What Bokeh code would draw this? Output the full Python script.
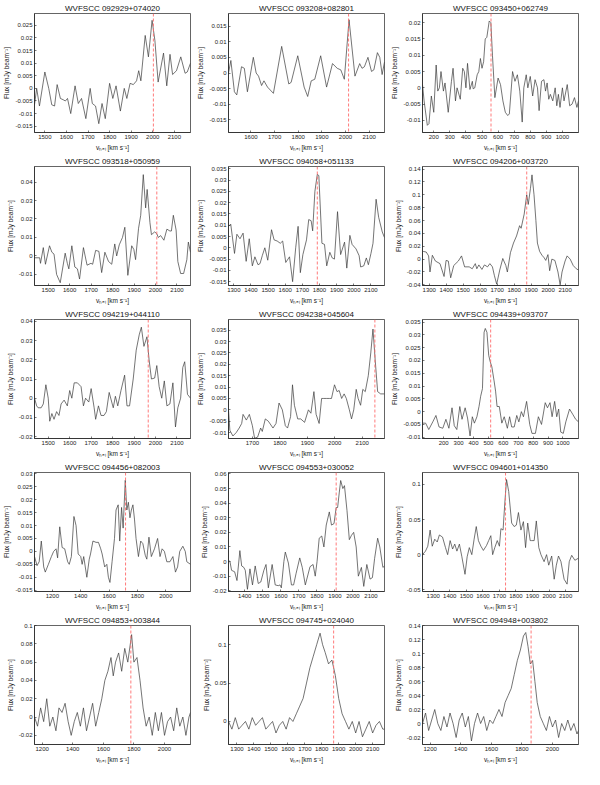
from bokeh.plotting import figure
from bokeh.layouts import gridplot
from bokeh.models import Span, FixedTicker
from bokeh.embed import file_html
from bokeh.resources import INLINE

NAMES = ["WVFSCC 092929+074020", "WVFSCC 093208+082801", "WVFSCC 093450+062749",
         "WVFSCC 093518+050959", "WVFSCC 094058+051133", "WVFSCC 094206+003720",
         "WVFSCC 094219+044110", "WVFSCC 094238+045604", "WVFSCC 094439+093707",
         "WVFSCC 094456+082003", "WVFSCC 094553+030052", "WVFSCC 094601+014350",
         "WVFSCC 094853+003844", "WVFSCC 094745+024040", "WVFSCC 094948+003802"]

VSYS = [2003, 2013, 556, 2006, 1787, 1874, 1966, 2146, 515, 1716, 1907, 1737, 1780, 1870, 1860]

V1 = [1452, 1462, 1475, 1500, 1518, 1532, 1545, 1557, 1572, 1585, 1595, 1605, 1620, 1640, 1655, 1670,
      1690, 1710, 1720, 1735, 1750, 1765, 1780, 1800, 1815, 1830, 1850, 1868, 1880, 1895, 1910, 1925,
      1935, 1945, 1965, 1980, 1997, 2010, 2025, 2050, 2065, 2080, 2092, 2110, 2130, 2150, 2160, 2175]
F1 = [-0.0065, 0.0, -0.007, 0.0065, 0.0, -0.0065, -0.007, 0.0015, -0.004, -0.0045, -0.005, -0.004,
      -0.010, 0.001, -0.006, -0.004, -0.012, 0.0, -0.006, -0.007, -0.014, -0.006, -0.012, 0.002,
      -0.004, 0.001, -0.009, 0.0, -0.004, 0.002, 0.0015, 0.003, 0.007, 0.003, 0.021, 0.0125, 0.027,
      0.019, 0.0025, 0.014, 0.001, 0.0135, 0.0055, 0.007, 0.0125, 0.006, 0.0065, 0.010]

V2 = [1505, 1515, 1530, 1540, 1560, 1572, 1585, 1610, 1622, 1632, 1645, 1655, 1670, 1695, 1730, 1760,
      1770, 1798, 1825, 1840, 1855, 1870, 1895, 1920, 1945, 1965, 1980, 1995, 2015, 2040, 2060, 2070,
      2080, 2095, 2110, 2120, 2135, 2145, 2155, 2165]
F2 = [0.0, 0.004, -0.006, -0.007, 0.002, 0.0015, -0.006, 0.005, 0.0, -0.001, -0.004, -0.0025, -0.0045,
      -0.0065, 0.0085, -0.0035, -0.003, 0.0055, -0.0045, -0.0075, -0.0025, -0.002, 0.0055, -0.0045,
      0.003, 0.0015, 0.001, -0.002, 0.017, -0.001, 0.003, 0.0015, 0.002, 0.005, 0.0005, 0.001, 0.0065,
      0.005, -0.0005, 0.0035]

V3 = [130, 140, 160, 170, 185, 200, 215, 225, 235, 245, 260, 270, 290, 310, 320, 335, 345, 365, 380, 390,
      400, 410, 425, 440, 445, 455, 470, 480, 490, 500, 510, 520, 530, 545, 555, 565, 580, 600, 615, 630,
      645, 660, 670, 690, 705, 720, 735, 750, 760, 775, 785, 800, 815, 830, 845, 855, 870, 885, 895, 905,
      915, 925, 940, 955, 965, 975, 985, 1000, 1010, 1030, 1045, 1060, 1075, 1090, 1100]
F3 = [0.001, -0.004, -0.0115, -0.011, -0.0025, -0.0075, 0.007, -0.001, 0.0, 0.005, -0.001, 0.0015,
      -0.0075, 0.002, 0.006, -0.004, 0.0, -0.0035, 0.006, 0.005, 0.0, 0.0075, -0.0005, 0.002, -0.0003,
      0.0, 0.004, 0.005, 0.009, 0.006, 0.008, 0.015, 0.0155, 0.0205, 0.02, 0.01, -0.003, 0.003, 0.001,
      -0.004, -0.0075, -0.0085, -0.008, 0.005, 0.002, 0.004, -0.001, -0.0105, 0.0, 0.004, 0.0, 0.0035,
      -0.0025, 0.0025, 0.0, -0.007, 0.002, 0.0025, -0.001, 0.0015, -0.0035, -0.002, -0.004, 0.0, -0.0055,
      -0.002, -0.006, 0.0, -0.004, 0.001, -0.0055, -0.005, -0.003, -0.006, -0.004]

V4 = [1436, 1460, 1464, 1477, 1487, 1506, 1517, 1527, 1539, 1556, 1579, 1589, 1596, 1610, 1624, 1636,
      1646, 1664, 1681, 1699, 1707, 1721, 1736, 1749, 1764, 1781, 1796, 1810, 1819, 1831, 1846, 1857,
      1871, 1889, 1899, 1907, 1921, 1931, 1943, 1954, 1961, 1974, 1981, 1996, 2006, 2013, 2024, 2039,
      2053, 2067, 2074, 2083, 2096, 2104, 2117, 2131, 2146, 2153, 2163]
F4 = [-0.001, -0.001, -0.004, 0.0045, -0.0045, 0.0055, 0.002, 0.001, -0.010, -0.0145, 0.0015, -0.004,
      -0.007, 0.0055, -0.006, -0.007, -0.0125, 0.0045, -0.005, -0.004, -0.0045, 0.003, 0.0025, -0.009,
      0.002, -0.003, -0.0045, 0.0065, 0.0, 0.006, 0.010, 0.0155, -0.0105, 0.0055, 0.0035, -0.002, 0.015,
      0.022, 0.044, 0.026, 0.036, 0.018, 0.0115, 0.013, 0.012, 0.010, 0.011, 0.0085, 0.0145, 0.0135,
      0.0135, 0.022, 0.014, -0.003, -0.0095, -0.0095, -0.002, 0.0075, 0.002]

V5 = [1269, 1282, 1304, 1318, 1336, 1354, 1372, 1390, 1408, 1423, 1441, 1453, 1466, 1481, 1498, 1520,
      1535, 1553, 1571, 1585, 1603, 1625, 1643, 1661, 1675, 1688, 1703, 1724, 1737, 1751, 1760, 1773,
      1787, 1796, 1814, 1829, 1842, 1860, 1874, 1887, 1905, 1923, 1946, 1959, 1977, 1990, 2013, 2031,
      2040, 2058, 2073, 2085, 2100, 2112, 2130, 2145, 2166, 2179]
F5 = [0.0095, 0.0105, -0.0025, 0.006, 0.004, 0.0065, -0.006, 0.004, -0.008, -0.004, -0.0075, -0.007,
      -0.0035, 0.0, -0.0055, 0.008, 0.0035, 0.003, 0.002, 0.003, -0.0065, -0.004, -0.015, 0.0, 0.0095,
      -0.011, -0.003, 0.0035, 0.0125, 0.012, 0.0075, 0.025, 0.0325, 0.032, 0.002, 0.0015, -0.008, -0.002,
      -0.0045, -0.005, 0.016, -0.003, 0.0025, -0.009, 0.0055, 0.0015, -0.0005, -0.0035, -0.0085, -0.008,
      -0.0045, -0.0075, -0.0025, 0.002, 0.0215, 0.0135, 0.007, 0.0045]

V6 = [1264, 1282, 1296, 1304, 1318, 1336, 1363, 1387, 1399, 1412, 1426, 1444, 1471, 1490, 1508, 1535,
      1553, 1571, 1580, 1592, 1610, 1625, 1643, 1657, 1672, 1683, 1697, 1715, 1733, 1751, 1760, 1778,
      1796, 1814, 1832, 1841, 1859, 1874, 1883, 1896, 1905, 1917, 1928, 1937, 1950, 1964, 1977, 1986,
      1999, 2009, 2022, 2040, 2058, 2071, 2082, 2100, 2112, 2130, 2148, 2166, 2179]
F6 = [0.012, 0.011, 0.005, -0.02, 0.006, -0.003, -0.007, -0.027, -0.002, -0.003, -0.029, -0.01, -0.003,
      0.005, -0.012, -0.012, -0.015, -0.007, -0.015, -0.009, -0.016, -0.009, -0.012, -0.007, -0.012,
      -0.025, -0.039, -0.017, 0.001, -0.01, -0.02, 0.01, 0.025, 0.036, 0.052, 0.048, 0.07, 0.1, 0.085,
      0.11, 0.131, 0.1, 0.06, 0.025, 0.012, 0.006, 0.002, -0.002, 0.007, -0.018, 0.0, -0.002, -0.02,
      -0.04, -0.02, -0.003, 0.005, 0.0, -0.01, -0.015, -0.017]

V7 = [1436, 1446, 1453, 1467, 1477, 1489, 1500, 1507, 1517, 1527, 1539, 1550, 1560, 1574, 1589, 1600,
      1610, 1621, 1636, 1653, 1664, 1674, 1689, 1700, 1714, 1721, 1734, 1746, 1760, 1771, 1784, 1803,
      1813, 1824, 1839, 1856, 1867, 1879, 1896, 1910, 1924, 1934, 1946, 1960, 1970, 1981, 1996, 2006,
      2017, 2029, 2041, 2053, 2067, 2081, 2093, 2104, 2117, 2127, 2136, 2149, 2163]
F7 = [0.0, -0.004, -0.005, -0.005, -0.003, 0.007, 0.0, -0.012, -0.008, -0.011, -0.007, -0.009, -0.003,
      -0.001, -0.004, 0.004, 0.0, 0.008, 0.008, 0.006, -0.004, 0.0, -0.002, 0.005, -0.005, -0.011, -0.004,
      -0.009, -0.009, -0.007, 0.003, -0.005, 0.001, -0.004, 0.004, 0.012, -0.004, -0.004, 0.01, 0.025,
      0.033, 0.037, 0.027, 0.032, 0.02, 0.01, 0.0105, 0.017, 0.006, 0.0, 0.009, -0.004, -0.003, 0.008,
      -0.015, -0.005, 0.0, 0.016, 0.019, 0.002, 0.0]

V8 = [1613, 1618, 1629, 1641, 1652, 1661, 1666, 1678, 1689, 1700, 1708, 1719, 1730, 1736, 1747, 1758,
      1775, 1786, 1797, 1809, 1820, 1828, 1839, 1846, 1853, 1865, 1876, 1890, 1904, 1913, 1924, 1932,
      1943, 1952, 1960, 1969, 1980, 1988, 1999, 2008, 2016, 2025, 2034, 2042, 2053, 2061, 2069, 2078,
      2085, 2094, 2102, 2111, 2122, 2131, 2139, 2147, 2156, 2167, 2181]
F8 = [0.0, -0.009, -0.0115, -0.01, -0.008, -0.006, -0.002, -0.0045, -0.002, -0.007, -0.0125, -0.012,
      -0.008, -0.0095, -0.004, -0.005, -0.008, -0.006, 0.003, 0.0, -0.007, -0.008, -0.003, 0.011, 0.002,
      -0.004, -0.004, -0.0055, 0.0, -0.0015, 0.008, -0.002, -0.006, 0.005, 0.005, 0.005, 0.005, 0.005,
      0.011, 0.008, 0.0085, 0.005, 0.007, 0.005, 0.0, -0.004, 0.0, 0.009, 0.005, 0.002, 0.009, 0.008,
      0.015, 0.025, 0.0355, 0.022, 0.008, 0.007, 0.007]

V9 = [58, 79, 100, 127, 148, 169, 194, 215, 235, 256, 271, 288, 308, 323, 344, 360, 377, 392, 406, 423,
      437, 448, 460, 471, 479, 490, 502, 512, 523, 538, 548, 558, 573, 590, 606, 627, 642, 656, 673, 690,
      704, 721, 735, 756, 777, 792, 815, 835, 856, 881, 896, 913, 927, 944, 958, 971, 985, 1002, 1019,
      1044, 1065, 1085, 1104]
F9 = [-0.0045, -0.0045, -0.007, -0.004, -0.0015, -0.006, -0.0065, -0.003, -0.0065, 0.0015, -0.0055,
      -0.007, 0.002, -0.003, 0.0015, -0.0025, -0.0095, -0.002, -0.0045, -0.002, 0.002, 0.006, 0.009,
      0.031, 0.0325, 0.031, 0.022, 0.0195, 0.0175, 0.012, 0.008, 0.002, 0.002, -0.0045, -0.002, -0.0065,
      -0.002, -0.006, -0.006, -0.0015, -0.004, 0.0, -0.002, 0.004, -0.005, -0.0085, -0.0085, -0.002,
      -0.005, 0.0035, 0.0015, 0.0035, -0.002, 0.004, -0.002, 0.001, -0.008, -0.0085, -0.004, 0.001,
      -0.001, -0.003, -0.004]

V10 = [1074, 1092, 1107, 1122, 1139, 1150, 1172, 1193, 1209, 1226, 1237, 1252, 1269, 1287, 1308, 1319,
       1334, 1352, 1367, 1382, 1400, 1410, 1421, 1443, 1460, 1469, 1486, 1508, 1525, 1541, 1551, 1569,
       1584, 1595, 1606, 1621, 1638, 1649, 1664, 1675, 1688, 1699, 1714, 1725, 1736, 1747, 1757, 1768,
       1779, 1790, 1807, 1823, 1838, 1855, 1866, 1881, 1898, 1920, 1942, 1959, 1974, 1990, 2007, 2029,
       2050, 2068, 2083, 2098, 2120, 2137, 2148, 2174]
F10 = [-0.002, -0.0055, -0.004, 0.004, -0.006, -0.008, -0.005, -0.002, 0.0, 0.001, -0.0025, 0.0095,
       0.0015, 0.001, -0.004, -0.005, -0.002, 0.0135, 0.01, -0.001, -0.002, -0.005, -0.002, -0.01, -0.003,
       -0.001, 0.004, 0.0035, 0.0035, 0.001, -0.001, -0.006, -0.005, -0.01, -0.012, -0.004, 0.005, 0.016,
       0.018, 0.004, 0.017, 0.009, 0.0275, 0.016, 0.019, 0.013, 0.016, 0.018, 0.0125, 0.005, -0.002,
       0.004, 0.003, -0.0015, -0.003, 0.0055, -0.002, 0.001, 0.005, -0.002, 0.001, 0.0, -0.004, -0.004,
       -0.002, -0.008, -0.006, 0.0, 0.002, 0.0, -0.004, -0.005]

V11 = [1310, 1318, 1327, 1344, 1357, 1373, 1383, 1395, 1403, 1415, 1429, 1443, 1458, 1475, 1489, 1506,
       1518, 1531, 1552, 1569, 1586, 1596, 1603, 1617, 1625, 1642, 1659, 1671, 1685, 1705, 1719, 1736,
       1762, 1779, 1791, 1801, 1813, 1827, 1839, 1852, 1869, 1881, 1895, 1907, 1915, 1924, 1932, 1944,
       1953, 1967, 1980, 1992, 2004, 2018, 2030, 2047, 2060, 2077, 2095, 2108, 2120, 2137, 2149, 2166, 2175]
F11 = [0.001, 0.0, -0.006, -0.007, -0.013, 0.0075, -0.003, -0.004, -0.006, -0.019, -0.005, -0.016,
       -0.003, -0.015, -0.014, -0.006, -0.002, -0.018, -0.002, -0.016, -0.0165, -0.016, -0.018, 0.0,
       0.0065, -0.001, -0.016, -0.016, -0.008, 0.0025, -0.004, -0.016, -0.0035, -0.002, -0.01, 0.0, 0.016,
       0.0175, 0.01, 0.025, 0.034, 0.025, 0.026, 0.037, 0.037, 0.047, 0.0555, 0.05, 0.052, 0.035, 0.015,
       0.018, 0.02, 0.01, -0.01, -0.004, -0.017, -0.002, -0.012, -0.011, 0.002, 0.016, 0.01, -0.004, -0.003]

V12 = [1235, 1253, 1267, 1281, 1294, 1309, 1324, 1337, 1356, 1374, 1387, 1402, 1417, 1430, 1443, 1458,
       1473, 1492, 1505, 1518, 1533, 1547, 1560, 1573, 1588, 1603, 1622, 1635, 1648, 1659, 1672, 1687,
       1700, 1709, 1722, 1733, 1743, 1756, 1774, 1789, 1802, 1815, 1830, 1845, 1858, 1871, 1886, 1895,
       1910, 1923, 1938, 1951, 1970, 1985, 1998, 2016, 2031, 2044, 2057, 2072, 2091, 2109, 2122, 2137,
       2156, 2178]
F12 = [0.0, 0.005, 0.012, 0.035, 0.012, 0.022, 0.018, 0.028, 0.025, 0.01, 0.0, 0.02, 0.008, 0.015, 0.005,
       0.015, -0.003, -0.028, -0.003, 0.01, 0.0, 0.022, 0.04, 0.02, 0.012, 0.006, 0.013, 0.02, 0.027, 0.0,
       0.01, 0.02, 0.012, 0.037, 0.035, 0.075, 0.107, 0.09, 0.045, 0.04, 0.042, 0.06, 0.035, 0.047, 0.01,
       0.045, 0.02, 0.02, 0.02, 0.048, 0.01, 0.0, -0.01, 0.0, -0.015, -0.002, -0.035, -0.015, -0.002,
       -0.01, -0.035, -0.042, -0.01, -0.001, -0.008, -0.005]

V13 = [1150, 1170, 1190, 1210, 1230, 1250, 1270, 1290, 1310, 1330, 1350, 1370, 1390, 1410, 1430, 1450,
       1470, 1490, 1510, 1530, 1550, 1570, 1590, 1610, 1630, 1650, 1665, 1680, 1700, 1720, 1740, 1760,
       1785, 1800, 1820, 1840, 1860, 1880, 1900, 1920, 1940, 1960, 1980, 2000, 2020, 2040, 2060, 2080,
       2100, 2120, 2140, 2160, 2170]
F13 = [0.0, -0.01, 0.01, -0.005, 0.02, -0.01, 0.0, -0.015, 0.01, 0.005, 0.015, -0.005, -0.02, -0.005,
       0.005, -0.01, 0.01, -0.015, 0.0, 0.015, -0.01, 0.005, 0.02, 0.04, 0.05, 0.065, 0.045, 0.06, 0.07,
       0.05, 0.075, 0.06, 0.09, 0.06, 0.065, 0.04, 0.01, -0.01, 0.0, -0.02, 0.005, -0.015, 0.005, -0.02,
       -0.005, 0.0, -0.015, 0.01, -0.01, 0.0, -0.02, 0.0, 0.005]

V14 = [1250, 1270, 1290, 1310, 1330, 1350, 1370, 1390, 1410, 1430, 1450, 1470, 1490, 1510, 1530, 1550,
       1570, 1590, 1610, 1630, 1650, 1670, 1690, 1710, 1730, 1750, 1770, 1790, 1805, 1820, 1840, 1860,
       1880, 1900, 1920, 1940, 1960, 1980, 2000, 2020, 2040, 2060, 2080, 2100, 2120, 2140, 2160, 2170]
F14 = [0.0, -0.01, 0.005, -0.01, -0.005, 0.0, -0.01, 0.005, -0.005, 0.0, 0.005, -0.01, -0.005, 0.0,
       -0.015, -0.005, 0.0, -0.01, 0.005, 0.0, 0.01, 0.02, 0.03, 0.05, 0.07, 0.085, 0.1, 0.115, 0.1, 0.09,
       0.075, 0.08, 0.06, 0.03, 0.01, 0.0, -0.01, 0.0, -0.015, 0.0, -0.02, -0.01, 0.0, -0.015, -0.005,
       0.0, -0.01, -0.01]

V15 = [1150, 1170, 1190, 1210, 1230, 1250, 1270, 1290, 1310, 1330, 1350, 1370, 1390, 1410, 1430, 1450,
       1470, 1490, 1510, 1530, 1550, 1570, 1590, 1610, 1630, 1650, 1670, 1690, 1710, 1730, 1750, 1770,
       1790, 1810, 1825, 1840, 1855, 1870, 1885, 1900, 1920, 1940, 1960, 1980, 2000, 2020, 2040, 2060,
       2080, 2100, 2120, 2140, 2160, 2170]
F15 = [0.0, 0.015, -0.01, 0.005, 0.02, 0.0, -0.01, 0.01, -0.005, 0.015, 0.0, -0.02, 0.005, 0.015, -0.005,
       0.01, -0.025, 0.0, 0.015, 0.0, 0.01, -0.01, 0.005, 0.0, 0.01, 0.02, 0.01, 0.03, 0.04, 0.05, 0.07,
       0.09, 0.105, 0.125, 0.13, 0.11, 0.085, 0.09, 0.06, 0.03, 0.01, 0.0, -0.01, 0.01, -0.005, 0.005,
       -0.02, 0.0, -0.01, 0.005, -0.01, 0.0, -0.015, -0.01]

XLIM = [(1452, 2175), (1505, 2165), (130, 1100), (1436, 2163), (1269, 2179), (1260, 2179),
        (1436, 2163), (1613, 2181), (58, 1104), (1074, 2174), (1310, 2175), (1235, 2178),
        (1150, 2170), (1250, 2170), (1150, 2170)]
YLIM = [(-0.0175, 0.0297), (-0.019, 0.019), (-0.0137, 0.0228), (-0.016, 0.0484), (-0.0167, 0.036),
        (-0.041, 0.144), (-0.021, 0.041), (-0.0126, 0.0397), (-0.0105, 0.036), (-0.0155, 0.0305),
        (-0.0205, 0.061), (-0.0525, 0.117), (-0.03, 0.1), (-0.03, 0.125), (-0.03, 0.14)]

XT_A = [1500, 1600, 1700, 1800, 1900, 2000, 2100]
XT_B = [1600, 1700, 1800, 1900, 2000, 2100]
XT_C = [200, 300, 400, 500, 600, 700, 800, 900, 1000]
XT_D = [1300, 1400, 1500, 1600, 1700, 1800, 1900, 2000, 2100]
XT_E = [1700, 1800, 1900, 2000, 2100]
XT_F = [1200, 1400, 1600, 1800, 2000]
XT_G = [1400, 1500, 1600, 1700, 1800, 1900, 2000, 2100]
XTICKS = [XT_A, XT_B, XT_C, XT_A, XT_D, XT_D, XT_A, XT_E, XT_C, XT_F, XT_G, XT_D, XT_F, XT_D, XT_F]

YTICKS = [
    [-0.015, -0.01, -0.005, 0, 0.005, 0.01, 0.015, 0.02, 0.025],
    [-0.015, -0.01, -0.005, 0, 0.005, 0.01, 0.015],
    [-0.01, -0.005, 0, 0.005, 0.01, 0.015, 0.02],
    [-0.01, 0, 0.01, 0.02, 0.03, 0.04],
    [-0.015, -0.01, -0.005, 0, 0.005, 0.01, 0.015, 0.02, 0.025, 0.03, 0.035],
    [-0.04, -0.02, 0, 0.02, 0.04, 0.06, 0.08, 0.1, 0.12, 0.14],
    [-0.02, -0.01, 0, 0.01, 0.02, 0.03, 0.04],
    [-0.01, -0.005, 0, 0.005, 0.01, 0.015, 0.02, 0.025, 0.03, 0.035],
    [-0.01, -0.005, 0, 0.005, 0.01, 0.015, 0.02, 0.025, 0.03, 0.035],
    [-0.015, -0.01, -0.005, 0, 0.005, 0.01, 0.015, 0.02, 0.025, 0.03],
    [-0.02, -0.01, 0, 0.01, 0.02, 0.03, 0.04, 0.05, 0.06],
    [-0.05, 0, 0.05, 0.1],
    [-0.02, 0, 0.02, 0.04, 0.06, 0.08, 0.1],
    [0, 0.05, 0.1],
    [-0.02, 0, 0.02, 0.04, 0.06, 0.08, 0.1, 0.12, 0.14],
]

VS = [V1, V2, V3, V4, V5, V6, V7, V8, V9, V10, V11, V12, V13, V14, V15]
FS = [F1, F2, F3, F4, F5, F6, F7, F8, F9, F10, F11, F12, F13, F14, F15]

FONT = "Liberation Sans"


def lab(t):
    return f"{round(t, 6):g}"


def style_axis(ax, ticks):
    ax.ticker = FixedTicker(ticks=ticks)
    ax.major_label_overrides = {t: lab(t) for t in ticks}
    ax.major_tick_in = 2
    ax.major_tick_out = 0
    ax.minor_tick_line_color = None
    ax.axis_line_color = "#222222"
    ax.axis_line_width = 0.7
    ax.major_tick_line_color = "#222222"
    ax.major_tick_line_width = 0.6
    ax.major_label_text_font = FONT
    ax.major_label_text_color = "#222222"
    ax.major_label_text_font_size = "6px"
    ax.major_label_standoff = 2
    ax.axis_label_text_font = FONT
    ax.axis_label_text_font_style = "normal"
    ax.axis_label_text_color = "#222222"
    ax.axis_label_text_font_size = "6.5px"
    ax.axis_label_standoff = 2


figs = []
for i in range(15):
    p = figure(width=194, height=153, output_backend="svg", toolbar_location=None,
               x_range=XLIM[i], y_range=YLIM[i], title=NAMES[i],
               min_border_left=30, min_border_right=4, min_border_top=2, min_border_bottom=4)
    p.title.align = "center"
    p.title.text_font = FONT
    p.title.text_font_size = "8px"
    p.title.text_font_style = "normal"
    p.title.text_color = "#111111"
    p.title.standoff = 2
    p.title.offset = 0
    p.xgrid.visible = False
    p.ygrid.visible = False
    p.outline_line_color = "#222222"
    p.outline_line_width = 0.7
    p.background_fill_color = "white"
    p.border_fill_color = "white"

    style_axis(p.xaxis[0], XTICKS[i])
    style_axis(p.yaxis[0], YTICKS[i])
    p.xaxis.axis_label = "vₕₑₗ [km s⁻¹]"
    p.yaxis.axis_label = "Flux [mJy beam⁻¹]"

    p.line(VS[i], FS[i], line_color="#3a3a3a", line_width=0.7)
    p.add_layout(Span(location=VSYS[i], dimension="height", line_color="#ff6b6b",
                      line_dash="3 2", line_width=0.9))
    figs.append(p)

grid = gridplot(figs, ncols=3, toolbar_location=None)
open("out.html", "w").write(file_html(grid, INLINE))
